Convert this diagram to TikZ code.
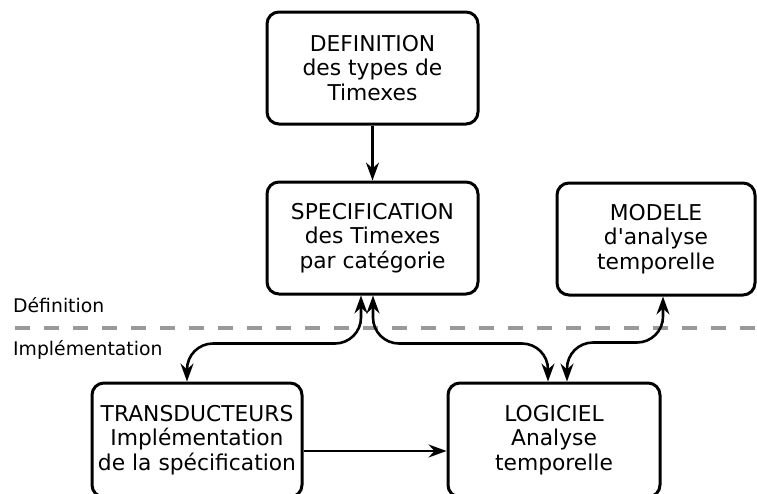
\documentclass[tikz,border=0pt]{standalone}
\usepackage{fontspec}
\setmainfont{DejaVu Sans}[Ligatures=TeXOff]
\usetikzlibrary{arrows.meta}
\definecolor{dashgray}{HTML}{999999}
\begin{document}
\begin{tikzpicture}[x=1pt,y=-1pt,
  box/.style={draw, line width=3pt, rounded corners=12pt, align=center,
    inner sep=0pt, font=\fontsize{21.8}{24.3}\selectfont},
  conn/.style={line width=2.6pt, rounded corners=26pt},
  tip/.tip={Stealth[length=18pt,width=13pt,inset=6pt]},
  lbl/.style={anchor=base west, inner sep=0pt, font=\fontsize{18.8}{22}\selectfont}]
\useasboundingbox (0,0) rectangle (757,493);
\node[box, minimum width=211pt, minimum height=112pt] (def) at (372.5,68) {DEFINITION\\des types de\\Timexes};
\node[box, minimum width=211pt, minimum height=112pt] (spec) at (372.5,238) {SPECIFICATION\\des Timexes\\par catégorie};
\node[box, minimum width=198pt, minimum height=112pt] (mod) at (656,239) {MODELE\\d'analyse\\temporelle};
\node[box, minimum width=210pt, minimum height=114pt] (trans) at (197,440) {TRANSDUCTEURS\\Implémentation\\de la spécification};
\node[box, minimum width=212pt, minimum height=114pt] (log) at (554,440) {LOGICIEL\\Analyse\\temporelle};
\node[lbl] (ldef) at (13,312) {Définition};
\node[lbl] (limp) at (13,355) {Implémentation};
\coordinate (dl) at (15,328);
\coordinate (dr) at (757,328);
\draw[dashgray, line width=4pt, dash pattern=on 15pt off 14pt] (dl) -- (dr);
\draw[line width=2.6pt, -{tip}] (def.south) -- (spec.north);
\draw[conn, {tip}-{tip}] ([xshift=-11.5pt]spec.south) -- ++(0,48) -| ([xshift=-10pt]trans.north);
\draw[conn, {tip}-{tip}] ([xshift=0.5pt]spec.south) -- ++(0,48) -| ([xshift=-6pt]log.north);
\draw[conn, {tip}-{tip}] ([xshift=7pt]mod.south) -- ++(0,46) -| ([xshift=13pt]log.north);
\draw[line width=2.6pt, -{tip}] ([yshift=-11pt]trans.east) -- ([yshift=-11pt]log.west);
\end{tikzpicture}
\end{document}
